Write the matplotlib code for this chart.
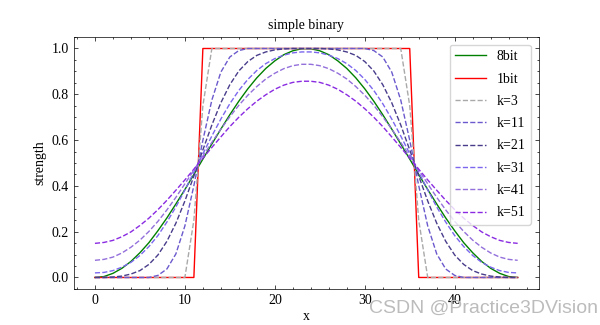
import matplotlib
matplotlib.use("Agg")
import matplotlib.pyplot as plt
from matplotlib.ticker import AutoMinorLocator

plt.rcParams['font.family'] = ['Liberation Serif', 'DejaVu Serif']
plt.rcParams['mathtext.fontset'] = 'stix'

x = list(range(48))

bit8 = [0.000, 0.004, 0.018, 0.040, 0.070, 0.108, 0.152, 0.204, 0.260, 0.321, 0.384, 0.450,
        0.517, 0.583, 0.648, 0.711, 0.770, 0.824, 0.872, 0.913, 0.946, 0.973, 0.990, 0.999,
        0.999, 0.990, 0.973, 0.946, 0.913, 0.872, 0.824, 0.770, 0.711, 0.648, 0.583, 0.517,
        0.450, 0.384, 0.321, 0.260, 0.204, 0.152, 0.108, 0.070, 0.040, 0.018, 0.004, 0.000]

bit1 = [0, 0, 0, 0, 0, 0, 0, 0, 0, 0, 0, 0,
        1, 1, 1, 1, 1, 1, 1, 1, 1, 1, 1, 1,
        1, 1, 1, 1, 1, 1, 1, 1, 1, 1, 1, 1,
        0, 0, 0, 0, 0, 0, 0, 0, 0, 0, 0, 0]

k3 = [0, 0, 0, 0, 0, 0, 0, 0, 0, 0, 0, 0.25,
      0.75, 1, 1, 1, 1, 1, 1, 1, 1, 1, 1, 1,
      1, 1, 1, 1, 1, 1, 1, 1, 1, 1, 1, 0.75,
      0.25, 0, 0, 0, 0, 0, 0, 0, 0, 0, 0, 0]

k11 = [0, 0, 0, 0, 0, 0, 0, 0.009, 0.037, 0.103, 0.225, 0.401,
       0.599, 0.775, 0.897, 0.963, 0.991, 1, 1, 1, 1, 1, 1, 1,
       1, 1, 1, 1, 1, 1, 1, 0.991, 0.963, 0.897, 0.775, 0.599,
       0.401, 0.225, 0.103, 0.037, 0.009, 0, 0, 0, 0, 0, 0, 0]

k21 = [0, 0, 0.002, 0.006, 0.015, 0.030, 0.057, 0.098, 0.158, 0.237, 0.334, 0.443,
       0.557, 0.666, 0.763, 0.842, 0.902, 0.943, 0.970, 0.985, 0.994, 0.998, 1, 1,
       1, 1, 0.998, 0.994, 0.985, 0.970, 0.943, 0.902, 0.842, 0.763, 0.666, 0.557,
       0.443, 0.334, 0.237, 0.158, 0.098, 0.057, 0.030, 0.015, 0.006, 0.002, 0, 0]

k31 = [0.020, 0.022, 0.030, 0.045, 0.066, 0.096, 0.135, 0.183, 0.242, 0.308, 0.382, 0.460,
       0.540, 0.618, 0.692, 0.759, 0.817, 0.865, 0.904, 0.934, 0.956, 0.971, 0.981, 0.985,
       0.985, 0.981, 0.971, 0.956, 0.934, 0.904, 0.865, 0.817, 0.759, 0.692, 0.618, 0.540,
       0.460, 0.382, 0.308, 0.242, 0.183, 0.135, 0.096, 0.066, 0.045, 0.030, 0.022, 0.020]

k41 = [0.075, 0.079, 0.089, 0.107, 0.132, 0.163, 0.201, 0.245, 0.295, 0.350, 0.409, 0.469,
       0.530, 0.590, 0.648, 0.702, 0.752, 0.796, 0.834, 0.867, 0.892, 0.912, 0.925, 0.931,
       0.931, 0.925, 0.912, 0.892, 0.867, 0.834, 0.796, 0.752, 0.702, 0.648, 0.590, 0.530,
       0.469, 0.409, 0.350, 0.295, 0.245, 0.201, 0.163, 0.132, 0.107, 0.089, 0.079, 0.075]

k51 = [0.149, 0.153, 0.162, 0.178, 0.199, 0.227, 0.259, 0.296, 0.337, 0.381, 0.426, 0.473,
       0.521, 0.568, 0.614, 0.659, 0.700, 0.737, 0.770, 0.798, 0.822, 0.840, 0.852, 0.857,
       0.857, 0.852, 0.840, 0.822, 0.798, 0.770, 0.737, 0.700, 0.659, 0.614, 0.568, 0.521,
       0.473, 0.426, 0.381, 0.337, 0.296, 0.259, 0.227, 0.199, 0.178, 0.162, 0.153, 0.149]

blurred = [("k=3", k3, "darkgray"),
           ("k=11", k11, "slateblue"),
           ("k=21", k21, "darkslateblue"),
           ("k=31", k31, "mediumslateblue"),
           ("k=41", k41, "mediumpurple"),
           ("k=51", k51, "blueviolet")]

fig = plt.figure(figsize=(6, 3.25), dpi=100)
ax = fig.add_axes([0.123, 0.111, 0.775, 0.775])

ax.plot(x, bit8, color="green", lw=1.0, label="8bit")
ax.plot(x, bit1, color="red", lw=1.0, label="1bit")
for name, vals, c in blurred:
    ax.plot(x, vals, color=c, lw=1.0, ls="--", label=name)

ax.set_title("simple binary", fontsize=10)
ax.set_xlabel("x", fontsize=10, labelpad=2)
ax.set_ylabel("strength", fontsize=10)

ax.xaxis.set_minor_locator(AutoMinorLocator(5))
ax.yaxis.set_minor_locator(AutoMinorLocator(4))
ax.tick_params(which="both", direction="in", top=True, right=True, width=0.5, labelsize=10)
ax.tick_params(which="major", length=3)
ax.tick_params(which="minor", length=1.5)
for s in ax.spines.values():
    s.set_linewidth(0.5)

ax.legend(loc="upper right", fontsize=10, frameon=True, labelspacing=0.67,
          handlelength=2.2, borderaxespad=0.55)

# blog watermark in the lower right corner
fig.text(0.997, 0.025, "CSDN @Practice3DVision", color="#bcbcbc", fontsize=14,
         family="Liberation Sans", ha="right", va="bottom")

fig.savefig("out.png", dpi=100)
